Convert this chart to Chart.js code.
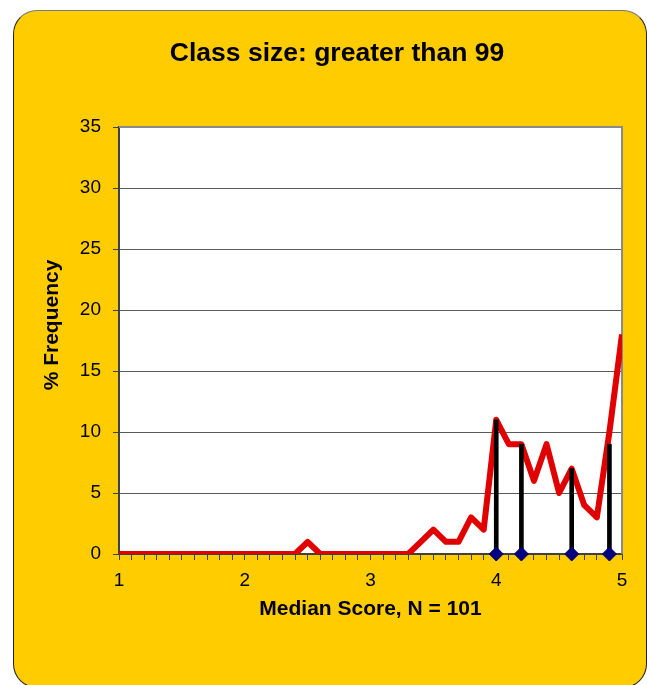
<!DOCTYPE html>
<html>
<head>
<meta charset="utf-8">
<script src="https://cdn.jsdelivr.net/npm/chart.js@4"></script>
<style>
  html, body { margin: 0; padding: 0; background: #ffffff; width: 647px; height: 685px; overflow: hidden; }
  #box { position: absolute; left: 13px; top: 10px; width: 632px; height: 676px;
         background: #FFCC00; border: 1px solid #222; border-top-color: #777;
         border-radius: 24px; }
  #c { position: absolute; left: 0; top: 0; }
</style>
</head>
<body>
<div id="box"></div>
<canvas id="c" width="647" height="685"></canvas>
<script>
// ---- data ----
const titleText = "Class size: greater than 99";
const xTitle = "Median Score, N = 101";
const yTitle = "% Frequency";
const medianScores = [1.0, 1.1, 1.2, 1.3, 1.4, 1.5, 1.6, 1.7, 1.8, 1.9,
                      2.0, 2.1, 2.2, 2.3, 2.4, 2.5, 2.6, 2.7, 2.8, 2.9,
                      3.0, 3.1, 3.2, 3.3, 3.4, 3.5, 3.6, 3.7, 3.8, 3.9,
                      4.0, 4.1, 4.2, 4.3, 4.4, 4.5, 4.6, 4.7, 4.8, 4.9, 5.0];
const frequency =    [0, 0, 0, 0, 0, 0, 0, 0, 0, 0,
                      0, 0, 0, 0, 0, 1, 0, 0, 0, 0,
                      0, 0, 0, 0, 1, 2, 1, 1, 3, 2,
                      11, 9, 9, 6, 9, 5, 7, 4, 3, 10, 18];
const stemScores = [4.0, 4.2, 4.6, 4.9];
const stemHeights = [11, 9, 7, 9];
const stemBase = [0, 0, 0, 0];
const xTickLabels = [1, 2, 3, 4, 5];
const yTicks = [0, 5, 10, 15, 20, 25, 30, 35];

const FONT = "'Liberation Sans', Arial, sans-serif";

const decor = {
  id: 'decor',
  beforeDraw(chart) {
    const {ctx, chartArea: a} = chart;
    ctx.save();
    ctx.fillStyle = '#ffffff';
    ctx.fillRect(a.left, a.top, a.right - a.left, a.bottom - a.top);
    ctx.restore();
  },
  beforeDatasetsDraw(chart) {
    const {ctx, chartArea: a} = chart;
    ctx.save();
    ctx.strokeStyle = '#8a8a8a';
    ctx.lineWidth = 2;
    ctx.beginPath();
    ctx.moveTo(a.left, a.top);
    ctx.lineTo(a.right, a.top);
    ctx.lineTo(a.right, a.bottom);
    ctx.stroke();
    ctx.restore();
  },
  afterDraw(chart) {
    const {ctx} = chart;
    ctx.save();
    ctx.fillStyle = '#000000';
    // chart title
    ctx.font = "bold 26.5px " + FONT;
    ctx.textAlign = 'center';
    ctx.textBaseline = 'alphabetic';
    ctx.fillText(titleText, 337, 61);
    // y axis title
    ctx.translate(58, 325);
    ctx.rotate(-Math.PI / 2);
    ctx.font = "bold 21px " + FONT;
    ctx.textAlign = 'center';
    ctx.textBaseline = 'alphabetic';
    ctx.fillText(yTitle, 0, 0);
    ctx.restore();
  }
};

Chart.defaults.font.family = FONT;
Chart.defaults.color = '#000000';

new Chart(document.getElementById('c'), {
  type: 'line',
  data: {
    datasets: [
      {
        type: 'line',
        data: medianScores.map((x, i) => ({x: x, y: frequency[i]})),
        borderColor: '#E00000',
        borderWidth: 6,
        borderJoinStyle: 'round',
        pointRadius: 0,
        tension: 0,
        fill: false,
        order: 3
      },
      {
        type: 'bar',
        data: stemScores.map((x, i) => ({x: x, y: stemHeights[i]})),
        backgroundColor: '#000000',
        barThickness: 4,
        order: 2
      },
      {
        type: 'scatter',
        data: stemScores.map((x, i) => ({x: x, y: stemBase[i]})),
        pointStyle: 'rectRot',
        pointRadius: 7,
        backgroundColor: '#000080',
        borderColor: '#000060',
        borderWidth: 1,
        showLine: false,
        clip: false,
        order: 1
      }
    ]
  },
  options: {
    responsive: false,
    animation: false,
    devicePixelRatio: 1,
    layout: { padding: { left: 13, right: 25, top: 127, bottom: 0 } },
    plugins: {
      legend: { display: false },
      tooltip: { enabled: false },
      title: { display: false }
    },
    scales: {
      x: {
        type: 'linear',
        min: 1, max: 5,
        offset: false,
        grid: { display: true, drawOnChartArea: false, drawTicks: true, tickLength: 6,
                tickColor: '#404040', lineWidth: 1, offset: false },
        border: { display: true, color: '#404040', width: 2 },
        ticks: {
          stepSize: 0.1, autoSkip: false, maxRotation: 0, padding: 9,
          font: { size: 19 }, color: '#000000',
          callback: function (v) {
            const r = Math.round(v);
            return (Math.abs(v - r) < 1e-6 && xTickLabels.includes(r)) ? String(r) : '';
          }
        },
        title: { display: true, text: xTitle, font: { size: 21, weight: 'bold' },
                 color: '#000000', padding: { top: 0, bottom: 63 } },
        afterFit(scale) { scale.height = 131; }
      },
      y: {
        type: 'linear',
        min: 0, max: 35,
        grid: { color: '#5a5a5a', lineWidth: 1, tickLength: 6, tickColor: '#404040' },
        border: { display: true, color: '#404040', width: 2 },
        afterBuildTicks(scale) { scale.ticks = yTicks.map(v => ({value: v})); },
        ticks: { stepSize: 5, padding: 12, font: { size: 19 }, color: '#000000' },
        title: { display: false },
        afterFit(scale) { scale.width = 106; }
      }
    }
  },
  plugins: [decor]
});
</script>
</body>
</html>
